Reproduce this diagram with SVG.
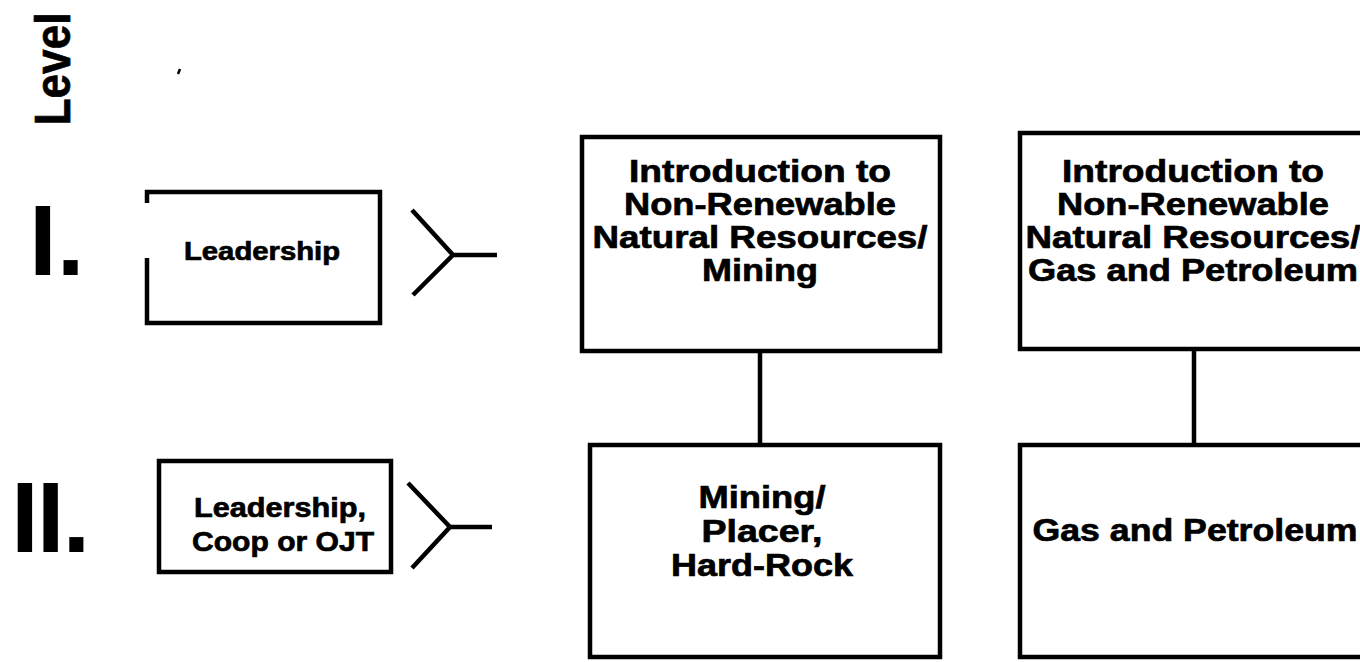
<svg xmlns="http://www.w3.org/2000/svg" width="1360" height="662" viewBox="0 0 1360 662">
<style>
.t{font-family:"Liberation Sans",Arial,sans-serif;font-weight:bold;fill:#000;stroke:#000;stroke-width:0.7;text-anchor:middle}
.big{font-size:32px}
.sm{font-size:28px}
.roman{font-family:"Liberation Sans",Arial,sans-serif;font-weight:bold;font-size:100px;fill:#000}
.box{fill:#fff;stroke:#000;stroke-width:4.5}
.ln{fill:none;stroke:#000;stroke-width:4.5;stroke-linecap:butt}
</style>
<rect width="1360" height="662" fill="#fff"/>
<g id="level-label">
<text class="t" transform="translate(70,69) rotate(-90)" style="font-size:50px" textLength="113" lengthAdjust="spacingAndGlyphs">Level</text>
<path d="M178,74 L180,69" stroke="#000" stroke-width="2.5" fill="none"/>
</g>
<g id="level-I">
<text class="roman" x="29" y="275">I.</text>
</g>
<g id="level-II">
<text class="roman" x="11" y="552" style="letter-spacing:-2px">II.</text>
</g>
<g id="connectors">
<path class="ln" d="M412,210 L453,255 L413,295 M453,255 H497"/>
<path class="ln" d="M408,483 L450,527 L412,568 M450,527 H492"/>
<path class="ln" d="M760,351 V445"/>
<path class="ln" d="M1194,349 V445"/>
</g>
<g id="node-leadership-1">
<path class="box" d="M147,203 V192 H380 V323 H147 V258"/>
<text class="t" x="262" y="260" style="font-size:26px" textLength="156" lengthAdjust="spacingAndGlyphs">Leadership</text>
</g>
<g id="node-leadership-2">
<rect class="box" x="159" y="461" width="232" height="111"/>
<text class="t sm" x="280" y="517" textLength="172" lengthAdjust="spacingAndGlyphs">Leadership,</text>
<text class="t sm" x="283" y="551" textLength="182" lengthAdjust="spacingAndGlyphs">Coop or OJT</text>
</g>
<g id="node-intro-mining">
<rect class="box" x="582" y="137" width="358" height="214"/>
<text class="t big" x="760" y="182" textLength="262" lengthAdjust="spacingAndGlyphs">Introduction to</text>
<text class="t big" x="760" y="215" textLength="272" lengthAdjust="spacingAndGlyphs">Non-Renewable</text>
<text class="t big" x="760" y="248" textLength="335" lengthAdjust="spacingAndGlyphs">Natural Resources/</text>
<text class="t big" x="760" y="281" textLength="116" lengthAdjust="spacingAndGlyphs">Mining</text>
</g>
<g id="node-intro-gas">
<rect class="box" x="1020" y="133" width="346" height="216"/>
<text class="t big" x="1193" y="182" textLength="262" lengthAdjust="spacingAndGlyphs">Introduction to</text>
<text class="t big" x="1193" y="215" textLength="272" lengthAdjust="spacingAndGlyphs">Non-Renewable</text>
<text class="t big" x="1193" y="248" textLength="335" lengthAdjust="spacingAndGlyphs">Natural Resources/</text>
<text class="t big" x="1193" y="281" textLength="330" lengthAdjust="spacingAndGlyphs">Gas and Petroleum</text>
</g>
<g id="node-mining">
<rect class="box" x="590" y="445" width="350" height="212"/>
<text class="t big" x="762" y="508" textLength="127" lengthAdjust="spacingAndGlyphs">Mining/</text>
<text class="t big" x="762" y="542" textLength="121" lengthAdjust="spacingAndGlyphs">Placer,</text>
<text class="t big" x="762" y="576" textLength="182" lengthAdjust="spacingAndGlyphs">Hard-Rock</text>
</g>
<g id="node-gas">
<rect class="box" x="1020" y="445" width="346" height="212"/>
<text class="t big" x="1195" y="541" textLength="325" lengthAdjust="spacingAndGlyphs">Gas and Petroleum</text>
</g>
</svg>
